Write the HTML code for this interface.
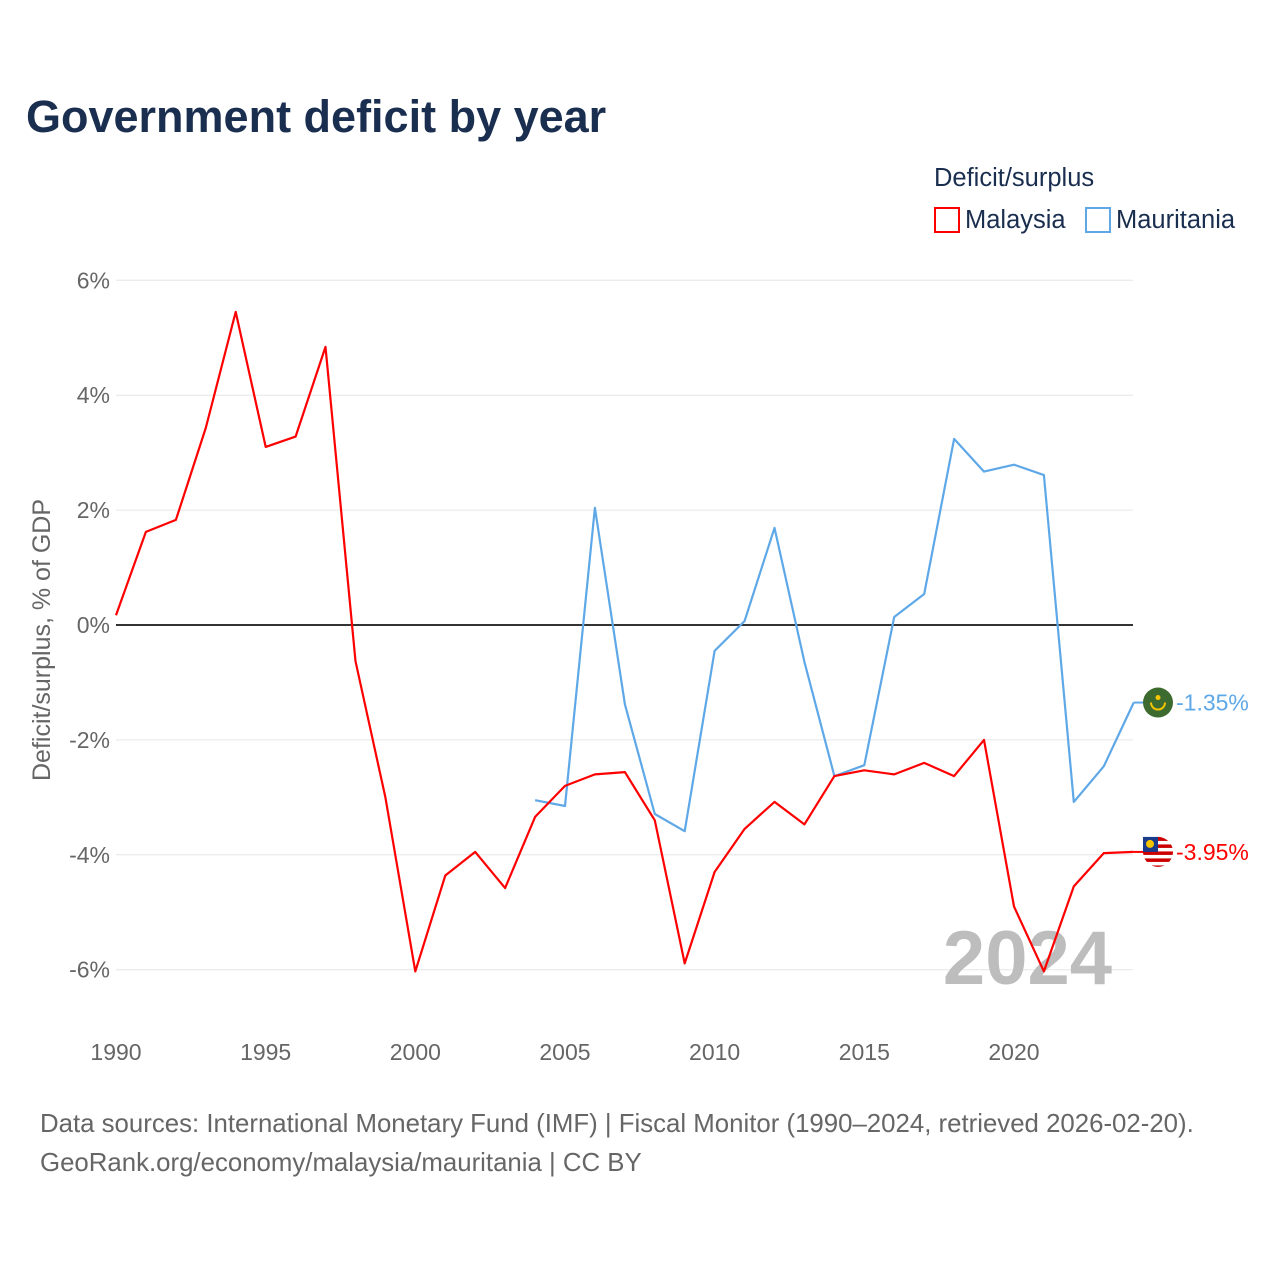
<!DOCTYPE html>
<html><head><meta charset="utf-8"><style>
body{margin:0;background:#fff;}
svg text{font-family:"Liberation Sans",sans-serif;}
</style></head><body>
<svg id="chart" width="1280" height="1280" viewBox="0 0 1280 1280" xmlns="http://www.w3.org/2000/svg">
<text x="26" y="132" font-size="45" font-weight="bold" fill="#1a2e4f">Government deficit by year</text>
<g>
<text x="934" y="186" font-size="25.5" fill="#1a2e4f">Deficit/surplus</text>
<rect x="935" y="208" width="24" height="24" fill="none" stroke="#ff0000" stroke-width="2"/>
<text x="965" y="228" font-size="25.5" fill="#1a2e4f">Malaysia</text>
<rect x="1086" y="208" width="24" height="24" fill="none" stroke="#5ea8e8" stroke-width="2"/>
<text x="1116" y="228" font-size="25.5" fill="#1a2e4f">Mauritania</text>
</g>
<text transform="translate(50,640) rotate(-90)" text-anchor="middle" font-size="25" fill="#666">Deficit/surplus, % of GDP</text>
<g id="grid"></g>
<text x="1112" y="984" text-anchor="end" font-size="76" font-weight="bold" fill="#bdbdbd">2024</text>
<g id="series"></g>
<text x="40" y="1132" font-size="25.8" fill="#666">Data sources: International Monetary Fund (IMF) | Fiscal Monitor (1990–2024, retrieved 2026-02-20).</text>
<text x="40" y="1171" font-size="25.8" fill="#666">GeoRank.org/economy/malaysia/mauritania | CC BY</text>
</svg>
<script>
const years = [];
for (let y = 1990; y <= 2024; y++) years.push(y);
const malaysia = [0.17,1.62,1.83,3.43,5.45,3.1,3.28,4.84,-0.63,-3.0,-6.03,-4.36,-3.95,-4.58,-3.34,-2.8,-2.6,-2.56,-3.4,-5.89,-4.3,-3.55,-3.08,-3.47,-2.63,-2.53,-2.6,-2.4,-2.63,-2.0,-4.9,-6.03,-4.55,-3.97,-3.95];
const mauritaniaYears = years.filter(y => y >= 2004);
const mauritania = [-3.05,-3.15,2.04,-1.38,-3.29,-3.59,-0.45,0.07,1.69,-0.64,-2.63,-2.44,0.14,0.54,3.24,2.67,2.79,2.61,-3.08,-2.46,-1.35];
const yTicks = [6,4,2,0,-2,-4,-6];
const yTickLabels = ["6%","4%","2%","0%","-2%","-4%","-6%"];
const xTicks = [1990,1995,2000,2005,2010,2015,2020];

const NS = "http://www.w3.org/2000/svg";
const X0 = 116, X1 = 1133.7, Y0 = 625, PER = 57.45;
const xs = y => X0 + (y - 1990) * (X1 - X0) / 34;
const ys = v => Y0 - v * PER;
function mk(tag, attrs, parent) {
  const e = document.createElementNS(NS, tag);
  for (const k in attrs) e.setAttribute(k, attrs[k]);
  parent.appendChild(e);
  return e;
}
const grid = document.getElementById('grid');
yTicks.forEach((t, i) => {
  const l = mk('line', {x1: X0, x2: 1133, y1: ys(t), y2: ys(t), stroke: t === 0 ? '#333' : '#e6e6e6', 'stroke-width': t === 0 ? 2 : 1}, grid);
  
  
  const tx = mk('text', {x: 110, y: ys(t) + 8, 'text-anchor': 'end', 'font-size': 23, fill: '#666'}, grid);
  tx.textContent = yTickLabels[i];
  
  
});
xTicks.forEach(t => {
  const tx = mk('text', {x: xs(t), y: 1060, 'text-anchor': 'middle', 'font-size': 23, fill: '#666'}, grid);
  tx.textContent = t;
  
  
});
const ser = document.getElementById('series');
function line(xv, yv, color, name) {
  const d = xv.map((x, i) => (i ? 'L' : 'M') + xs(x).toFixed(1) + ',' + ys(yv[i]).toFixed(1)).join('');
  const p = mk('path', {d: d, fill: 'none', stroke: color, 'stroke-width': 2.2, 'stroke-linejoin': 'round'}, ser);
  
  
}
line(mauritaniaYears, mauritania, '#5ea8e8', 'mauritania-line');
line(years, malaysia, '#ff0000', 'malaysia-line');

function endMarker(v, color, label, name, flagColor) {
  const cx = 1158, cy = ys(v);
  mk('line', {x1: X1, x2: cx - 14, y1: cy, y2: cy, stroke: color, 'stroke-width': 2}, ser);
  const c = mk('circle', {cx: cx, cy: cy, r: 15, fill: flagColor}, ser);
  
  
  if (name === 'malaysia') {
    for (let i = 0; i < 4; i++) mk('rect', {x: cx - 15, y: cy - 11 + i * 7, width: 30, height: 3.5, fill: '#fff'}, ser);
    mk('rect', {x: cx - 15, y: cy - 15, width: 15, height: 15, fill: '#1a3a8a'}, ser);
    mk('circle', {cx: cx - 8, cy: cy - 8, r: 4, fill: '#f5c400'}, ser);
  } else {
    mk('path', {d: `M${cx-7},${cy} A7,7 0 0 0 ${cx+7},${cy}`, fill: 'none', stroke: '#f5c400', 'stroke-width': 2}, ser);
    mk('circle', {cx: cx, cy: cy - 5, r: 2.5, fill: '#f5c400'}, ser);
  }
  const t = mk('text', {x: 1176, y: cy + 8, 'font-size': 23, fill: color}, ser);
  t.textContent = label;
  
  
}
endMarker(mauritania[mauritania.length - 1], '#5ea8e8', '-1.35%', 'mauritania', '#3d6b2f');
endMarker(malaysia[malaysia.length - 1], '#ff0000', '-3.95%', 'malaysia', '#cc0000');
</script>
</body></html>
